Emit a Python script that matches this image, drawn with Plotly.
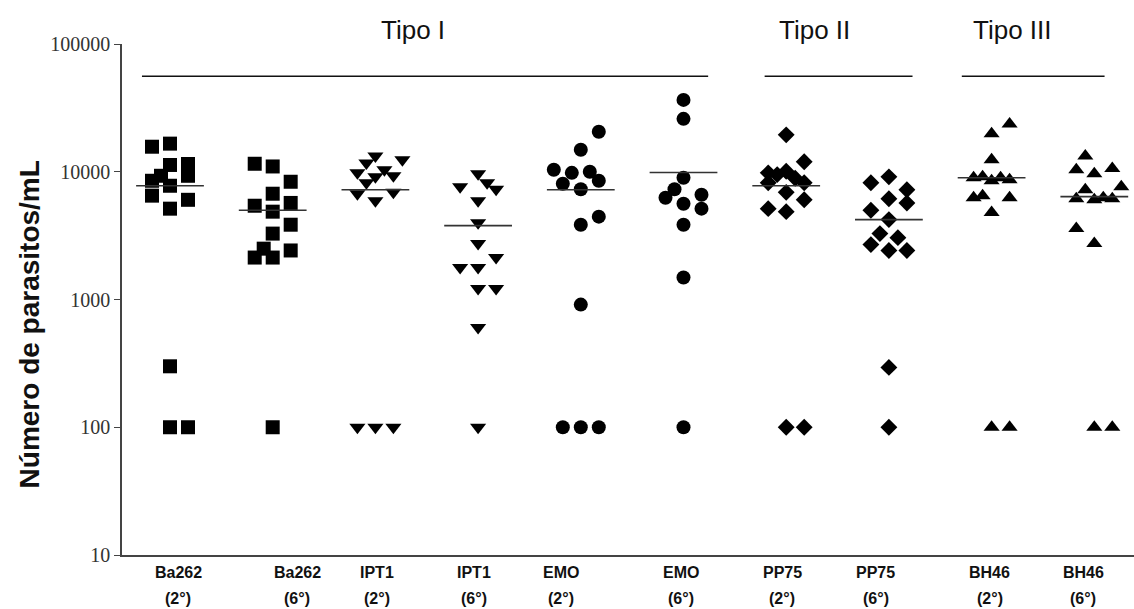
import numpy as np
import plotly.graph_objects as go

# Strains and sampling day (2nd / 6th day)
strains = ["Ba262", "Ba262", "IPT1", "IPT1", "EMO", "EMO", "PP75", "PP75", "BH46", "BH46"]
days = ["(2°)", "(6°)", "(2°)", "(6°)", "(2°)", "(6°)", "(2°)", "(6°)", "(2°)", "(6°)"]
symbols = ["square", "square", "triangle-down", "triangle-down", "circle", "circle",
           "diamond", "diamond", "triangle-up", "triangle-up"]

# Parasitaemia per animal (parasites/mL)
ba262_d2 = [16600, 15700, 11500, 11300, 9300, 9300, 8500, 7770, 6500, 6030, 5140, 300, 100, 100]
ba262_d6 = [11550, 11000, 8350, 6730, 5420, 5700, 4870, 3850, 3280, 2500, 2130, 2130, 2420, 100]
ipt1_d2 = [13300, 12400, 11700, 10370, 9800, 9120, 9300, 8200, 6730, 6900, 5930, 100, 100, 100]
ipt1_d6 = [9650, 7640, 8200, 7300, 5930, 3990, 2740, 2130, 1780, 1780, 1220, 1220, 604, 100]
emo_d2 = [20540, 14860, 10370, 9800, 10000, 8060, 8500, 7300, 4450, 3850, 912, 100, 100, 100]
emo_d6 = [36500, 25950, 8980, 7300, 6260, 5610, 6600, 5140, 3850, 1485, 100]
pp75_d2 = [19450, 11980, 9800, 10100, 9500, 8900, 8200, 8200, 6900, 6030, 5140, 4870, 100, 100]
pp75_d6 = [9120, 8200, 7230, 6140, 5700, 4990, 4220, 3280, 3050, 2690, 2420, 2420, 294, 100]
bh46_d2 = [23700, 19800, 12400, 8980, 9120, 8500, 8980, 8640, 6260, 6500, 6260, 4790, 100, 100]
bh46_d6 = [13300, 10370, 10600, 9650, 7640, 7230, 6140, 6030, 6260, 6140, 3590, 2740, 100, 100]
groups = [ba262_d2, ba262_d6, ipt1_d2, ipt1_d6, emo_d2, emo_d6, pp75_d2, pp75_d6, bh46_d2, bh46_d6]

# Group medians (horizontal bars)
medians = [7770, 4990, 7230, 3790, 7230, 9870, 7770, 4220, 8980, 6390]

# Genotype groups spanning the strains
tipo_names = ["Tipo I", "Tipo II", "Tipo III"]

# --- layout helpers: scatter columns for each point (in half-slot units) ---
columns = [
    [0, -2, 2, 0, 2, -1, -2, 0, -2, 2, 0, 0, 0, 2],
    [-2, 0, 2, 0, -2, 2, 0, 2, 0, -1, -2, 0, 2, 0],
    [0, 3, -1, 1, -2, 0, 2, -1, -2, 2, 0, -2, 0, 2],
    [0, -2, 1, 2, 0, 0, 0, 2, -2, 0, 0, 2, 0, 0],
    [2, 0, -3, -1, 1, -2, 2, 0, 2, 0, 0, -2, 0, 2],
    [0, 0, 0, -1, -2, 0, 2, 2, 0, 0, 0],
    [0, 2, -2, 0, -1, 1, -2, 2, 0, 2, -2, 0, 0, 2],
    [0, -2, 2, 0, 2, -2, 0, -1, 1, -2, 0, 2, 0, 0],
    [2, 0, 0, -2, -1, 0, 1, 2, -2, -1, 2, 0, 0, 2],
    [-1, -2, 2, 0, 3, -1, -2, 0, 1, 2, -2, 0, 0, 2],
]
col_step = 0.0876
marker_sizes = {"square": 14, "triangle-down": 14, "circle": 14, "diamond": 13, "triangle-up": 14}
label_x = [1.08, 2.24, 3.02, 3.96, 4.81, 5.98, 6.96, 7.87, 8.98, 9.89]
tipo_spans = [(0.727, 6.24), (6.79, 8.23), (8.71, 10.10)]
tipo_text_x = [3.37, 7.28, 9.20]

fig = go.Figure()

for i, (vals, cols, sym) in enumerate(zip(groups, columns, symbols)):
    pos = i + 1
    fig.add_trace(go.Scatter(
        x=[pos + c * col_step for c in cols], y=vals, mode="markers",
        marker=dict(symbol=sym, size=marker_sizes[sym], color="black", line=dict(width=0)),
        showlegend=False, cliponaxis=False,
    ))

# median bars
mx, my = [], []
for i, m in enumerate(medians):
    pos = i + 1
    mx += [pos - 0.33, pos + 0.33, None]
    my += [m, m, None]
fig.add_trace(go.Scatter(x=mx, y=my, mode="lines", line=dict(color="#333333", width=1.6),
                         showlegend=False, hoverinfo="skip"))

# group bars and titles at the top
for (x0, x1), name, tx in zip(tipo_spans, tipo_names, tipo_text_x):
    fig.add_shape(type="line", xref="x", yref="paper", x0=x0, x1=x1, y0=0.937, y1=0.937,
                  line=dict(color="#111111", width=1.6))
    fig.add_annotation(x=tx, xref="x", y=1.027, yref="paper", text=name, showarrow=False,
                       font=dict(family="Liberation Sans, Arial", size=26, color="#111111"),
                       xanchor="center", yanchor="middle")

# category labels (two lines)
for lx, s, d in zip(label_x, strains, days):
    fig.add_annotation(x=lx, xref="x", y=-0.0352, yref="paper", text=f"<b>{s}</b>", showarrow=False,
                       font=dict(family="Liberation Sans, Arial", size=16, color="#111111"),
                       xanchor="center", yanchor="middle")
    fig.add_annotation(x=lx, xref="x", y=-0.0861, yref="paper", text=f"<b>{d}</b>", showarrow=False,
                       font=dict(family="Liberation Sans, Arial", size=16, color="#111111"),
                       xanchor="center", yanchor="middle")

# y-axis title
fig.add_annotation(x=-0.091, xref="paper", y=0.451, yref="paper", text="<b>Número de parasitos/mL</b>",
                   textangle=-90, showarrow=False,
                   font=dict(family="Liberation Sans, Arial", size=28, color="#111111"),
                   xanchor="center", yanchor="middle")

tick_vals = [10, 100, 1000, 10000, 100000]
fig.update_layout(
    width=1134, height=609,
    margin=dict(l=122, r=0, t=44, b=54),
    paper_bgcolor="white", plot_bgcolor="white",
    xaxis=dict(range=[0.5326, 10.3866], showgrid=False, zeroline=False, showticklabels=False,
               ticks="", showline=True, linecolor="#444444", linewidth=1.6),
    yaxis=dict(type="log", range=[1, 5], showgrid=False, zeroline=False,
               tickvals=tick_vals, ticktext=[str(v) for v in tick_vals],
               ticks="outside", ticklen=6, tickwidth=1.4, tickcolor="#444444",
               showline=True, linecolor="#444444", linewidth=1.6,
               tickfont=dict(family="Liberation Serif, Times New Roman", size=20, color="#333333")),
)

fig.write_html("out.html")
